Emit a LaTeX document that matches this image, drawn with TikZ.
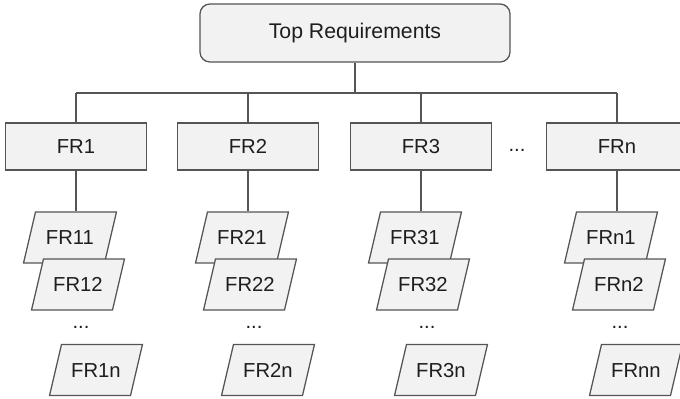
\documentclass[tikz,border=0pt]{standalone}
\usepackage{fontspec}
\setmainfont{Liberation Sans}
\usetikzlibrary{shapes.geometric}
\definecolor{boxfill}{RGB}{242,242,242}
\definecolor{boxline}{RGB}{85,85,85}
\definecolor{txt}{RGB}{30,30,30}

\begin{document}
\begin{tikzpicture}[x=0.025cm, y=-0.025cm, line width=0.9pt,
        font=\fontsize{14.4}{17}\selectfont,
        topbox/.style={rectangle, rounded corners=0.25cm, draw=boxline, fill=boxfill, text=txt,
            minimum width=7.75cm, minimum height=1.45cm, font=\fontsize{15.1}{18}\selectfont},
        frbox/.style={rectangle, draw=boxline, fill=boxfill, text=txt,
            minimum width=3.525cm, minimum height=1.175cm},
        subbox/.style={trapezium, trapezium left angle=76.8, trapezium right angle=103.2,
            draw=boxline, fill=boxfill, text=txt, inner sep=0pt, align=center,
            text width=1.725cm, text height=0.818cm, text depth=0.456cm},
        more/.style={text=txt, inner sep=0pt}]
        \clip (0,0) rectangle (680,399);

        \node[topbox] (top) at (355, 33) {Top Requirements};

        \node[frbox] (fr1) at (76, 146.5) {FR1};
        \node[frbox] (fr2) at (248, 146.5) {FR2};
        \node[frbox] (fr3) at (421, 146.5) {FR3};
        \node[more] (frdots) at (517, 150) {...};
        \node[frbox] (frn) at (617, 146.5) {FRn};

        \coordinate (bus) at (0, 93);

        \node[subbox] (fr11) at (70, 237.5) {FR11};
        \node[subbox] (fr12) at (78, 284.5) {FR12};
        \node[more] (fr1dots) at (81, 327) {...};
        \node[subbox] (fr1n) at (96, 370) {FR1n};

        \node[subbox] (fr21) at (242, 237.5) {FR21};
        \node[subbox] (fr22) at (250, 284.5) {FR22};
        \node[more] (fr2dots) at (254, 327) {...};
        \node[subbox] (fr2n) at (268, 370) {FR2n};

        \node[subbox] (fr31) at (415, 237.5) {FR31};
        \node[subbox] (fr32) at (423, 284.5) {FR32};
        \node[more] (fr3dots) at (427, 327) {...};
        \node[subbox] (fr3n) at (441, 370) {FR3n};

        \node[subbox] (frn1) at (611, 237.5) {FRn1};
        \node[subbox] (frn2) at (619, 284.5) {FRn2};
        \node[more] (frndots) at (620, 327) {...};
        \node[subbox] (frnn) at (636, 370) {FRnn};

        \draw[boxline] (top.south) to (top.south |- bus)
            (fr1.north |- bus) to (frn.north |- bus)
            (fr1.north |- bus) to (fr1.north)
            (fr2.north |- bus) to (fr2.north)
            (fr3.north |- bus) to (fr3.north)
            (frn.north |- bus) to (frn.north);

        \draw[boxline] (fr1.south) to (fr1.south |- fr11.north)
            (fr2.south) to (fr2.south |- fr21.north)
            (fr3.south) to (fr3.south |- fr31.north)
            (frn.south) to (frn.south |- frn1.north);
    \end{tikzpicture}
\end{document}
